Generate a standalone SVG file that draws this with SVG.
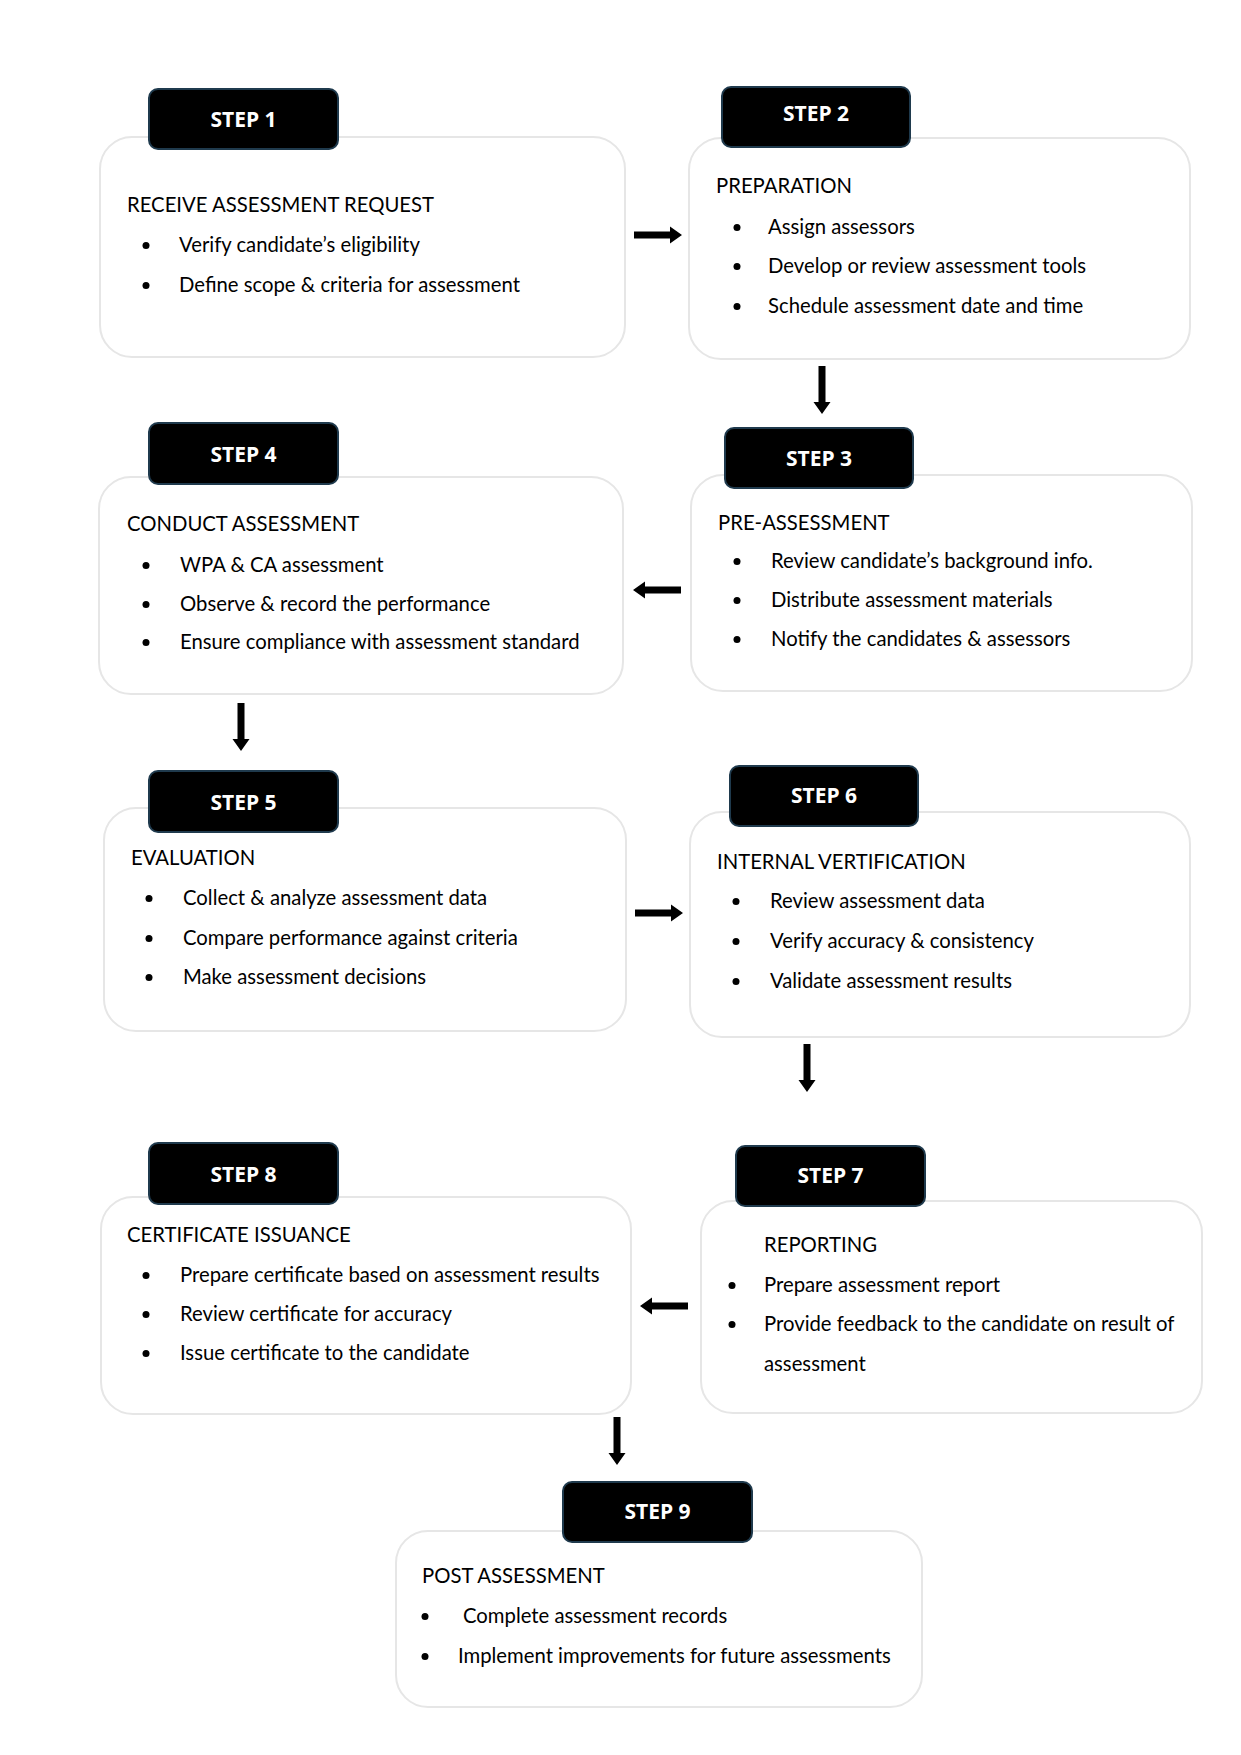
<svg xmlns="http://www.w3.org/2000/svg" xmlns:xlink="http://www.w3.org/1999/xlink" width="1241" height="1755" viewBox="0 0 1241 1755">
<style>
.card{fill:#fff;stroke:#e6e6e6;stroke-width:2}
.lab{fill:#000;stroke:#1f3a4d;stroke-width:2}
.lt{font-family:"Open Sans","Liberation Sans",sans-serif;font-weight:bold;font-size:21px;fill:#fff;text-anchor:middle}
.t{font-family:Lato,"Liberation Sans",sans-serif;font-size:20.3px;fill:#000}
.b{fill:#000}
.arr{fill:#000}
</style>
<defs>
<path id="ar" d="M0,-3.5 H36 V-8.5 L48,0 L36,8.5 V3.5 H0 Z"/>
</defs>
<rect width="1241" height="1755" fill="#fff"/>

<g id="connectors" class="arr">
<use xlink:href="#ar" transform="translate(634,235)"/>
<use xlink:href="#ar" transform="translate(822,366) rotate(90)"/>
<use xlink:href="#ar" transform="translate(681,590) rotate(180)"/>
<use xlink:href="#ar" transform="translate(241,703) rotate(90)"/>
<use xlink:href="#ar" transform="translate(635,913)"/>
<use xlink:href="#ar" transform="translate(807,1044) rotate(90)"/>
<use xlink:href="#ar" transform="translate(688,1306) rotate(180)"/>
<use xlink:href="#ar" transform="translate(617,1417) rotate(90)"/>
</g>

<g id="step1">
<rect class="card" x="100" y="137" width="525" height="220" rx="32"/>
<rect class="lab" x="149" y="89" width="189" height="60" rx="9"/>
<text class="lt" x="243.5" y="127">STEP 1</text>
<text class="t" x="127" y="212">RECEIVE ASSESSMENT REQUEST</text>
<circle class="b" cx="146" cy="245.5" r="3.5"/>
<text class="t" x="179" y="252">Verify candidate’s eligibility</text>
<circle class="b" cx="146" cy="285.5" r="3.5"/>
<text class="t" x="179" y="292">Define scope &amp; criteria for assessment</text>
</g>

<g id="step2">
<rect class="card" x="689" y="138" width="501" height="221" rx="32"/>
<rect class="lab" x="722" y="87" width="188" height="60" rx="9"/>
<text class="lt" x="816" y="121">STEP 2</text>
<text class="t" x="716" y="193">PREPARATION</text>
<circle class="b" cx="737" cy="227.5" r="3.5"/>
<text class="t" x="768" y="234">Assign assessors</text>
<circle class="b" cx="737" cy="266.5" r="3.5"/>
<text class="t" x="768" y="273">Develop or review assessment tools</text>
<circle class="b" cx="737" cy="306.5" r="3.5"/>
<text class="t" x="768" y="313">Schedule assessment date and time</text>
</g>

<g id="step3">
<rect class="card" x="691" y="475" width="501" height="216" rx="32"/>
<rect class="lab" x="725" y="428" width="188" height="60" rx="9"/>
<text class="lt" x="819" y="466">STEP 3</text>
<text class="t" x="718" y="530">PRE-ASSESSMENT</text>
<circle class="b" cx="737" cy="561.5" r="3.5"/>
<text class="t" x="771" y="568">Review candidate’s background info.</text>
<circle class="b" cx="737" cy="600.5" r="3.5"/>
<text class="t" x="771" y="607">Distribute assessment materials</text>
<circle class="b" cx="737" cy="639.5" r="3.5"/>
<text class="t" x="771" y="646">Notify the candidates &amp; assessors</text>
</g>

<g id="step4">
<rect class="card" x="99" y="477" width="524" height="217" rx="32"/>
<rect class="lab" x="149" y="423" width="189" height="61" rx="9"/>
<text class="lt" x="243.5" y="462">STEP 4</text>
<text class="t" x="127" y="531">CONDUCT ASSESSMENT</text>
<circle class="b" cx="146" cy="565.5" r="3.5"/>
<text class="t" x="180" y="572">WPA &amp; CA assessment</text>
<circle class="b" cx="146" cy="604.5" r="3.5"/>
<text class="t" x="180" y="611">Observe &amp; record the performance</text>
<circle class="b" cx="146" cy="642.5" r="3.5"/>
<text class="t" x="180" y="649">Ensure compliance with assessment standard</text>
</g>

<g id="step5">
<rect class="card" x="104" y="808" width="522" height="223" rx="32"/>
<rect class="lab" x="149" y="771" width="189" height="61" rx="9"/>
<text class="lt" x="243.5" y="810">STEP 5</text>
<text class="t" x="131" y="865">EVALUATION</text>
<circle class="b" cx="149" cy="898.5" r="3.5"/>
<text class="t" x="183" y="905">Collect &amp; analyze assessment data</text>
<circle class="b" cx="149" cy="938.5" r="3.5"/>
<text class="t" x="183" y="945">Compare performance against criteria</text>
<circle class="b" cx="149" cy="977.5" r="3.5"/>
<text class="t" x="183" y="984">Make assessment decisions</text>
</g>

<g id="step6">
<rect class="card" x="690" y="812" width="500" height="225" rx="32"/>
<rect class="lab" x="730" y="766" width="188" height="60" rx="9"/>
<text class="lt" x="824" y="803">STEP 6</text>
<text class="t" x="717" y="869">INTERNAL VERTIFICATION</text>
<circle class="b" cx="736" cy="901.5" r="3.5"/>
<text class="t" x="770" y="908">Review assessment data</text>
<circle class="b" cx="736" cy="941.5" r="3.5"/>
<text class="t" x="770" y="948">Verify accuracy &amp; consistency</text>
<circle class="b" cx="736" cy="981.5" r="3.5"/>
<text class="t" x="770" y="988">Validate assessment results</text>
</g>

<g id="step7">
<rect class="card" x="701" y="1201" width="501" height="212" rx="32"/>
<rect class="lab" x="736" y="1146" width="189" height="60" rx="9"/>
<text class="lt" x="830.5" y="1183">STEP 7</text>
<text class="t" x="764" y="1252">REPORTING</text>
<circle class="b" cx="732" cy="1285.5" r="3.5"/>
<text class="t" x="764" y="1292">Prepare assessment report</text>
<circle class="b" cx="732" cy="1324.5" r="3.5"/>
<text class="t" x="764" y="1331">Provide feedback to the candidate on result of</text>
<text class="t" x="764" y="1371">assessment</text>
</g>

<g id="step8">
<rect class="card" x="101" y="1197" width="530" height="217" rx="32"/>
<rect class="lab" x="149" y="1143" width="189" height="61" rx="9"/>
<text class="lt" x="243.5" y="1182">STEP 8</text>
<text class="t" x="127" y="1242">CERTIFICATE ISSUANCE</text>
<circle class="b" cx="146" cy="1275.5" r="3.5"/>
<text class="t" x="180" y="1282">Prepare certificate based on assessment results</text>
<circle class="b" cx="146" cy="1314.5" r="3.5"/>
<text class="t" x="180" y="1321">Review certificate for accuracy</text>
<circle class="b" cx="146" cy="1353.5" r="3.5"/>
<text class="t" x="180" y="1360">Issue certificate to the candidate</text>
</g>

<g id="step9">
<rect class="card" x="396" y="1531" width="526" height="176" rx="32"/>
<rect class="lab" x="563" y="1482" width="189" height="60" rx="9"/>
<text class="lt" x="657.5" y="1519">STEP 9</text>
<text class="t" x="422" y="1583">POST ASSESSMENT</text>
<circle class="b" cx="425" cy="1616.5" r="3.5"/>
<text class="t" x="463" y="1623">Complete assessment records</text>
<circle class="b" cx="425" cy="1656.5" r="3.5"/>
<text class="t" x="458" y="1663">Implement improvements for future assessments</text>
</g>
</svg>
